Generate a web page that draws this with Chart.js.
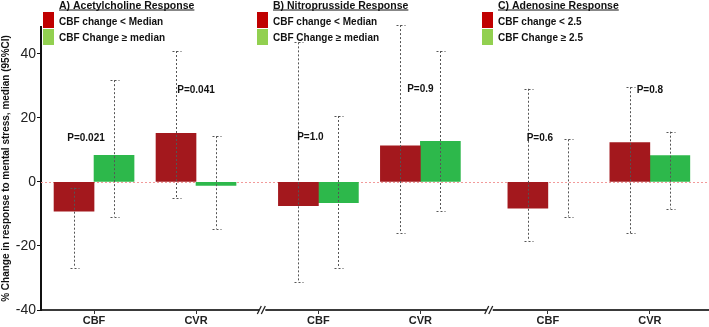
<!DOCTYPE html>
<html>
<head>
<meta charset="utf-8">
<script src="https://cdn.jsdelivr.net/npm/chart.js@4"></script>
<style>
html, body { margin: 0; padding: 0; background: #fff; }
#wrap { width: 709px; height: 327px; position: relative; }
</style>
</head>
<body>
<div id="wrap"><canvas id="myChart"></canvas></div>
<script>
let panels = ["A) Acetylcholine Response", "B) Nitroprusside Response", "C) Adenosine Response"];
let lowLabels = ["CBF change < Median", "CBF change < Median", "CBF change < 2.5"];
let highLabels = ["CBF Change ≥ median", "CBF Change ≥ median", "CBF Change ≥ 2.5"];
let categories = ["CBF", "CVR", "CBF", "CVR", "CBF", "CVR"];
// where each category sits on the (broken) x axis, and where the breaks are
let slots = [1, 2, 3.2, 4.2, 5.45, 6.45];
let breaks = [2.65, 4.88];
let lowMedian = [-9.1, 15.2, -7.4, 11.3, -8.2, 12.3];
let lowCiLo = [-26.8, -5.1, -31.1, -16.0, -18.4, -16.0];
let lowCiHi = [-1.8, 40.9, 43.6, 49.0, 29.1, 29.6];
let highMedian = [8.3, -1.1, -6.5, 12.7, 0, 8.2];
let highCiLo = [-10.8, -14.6, -26.8, -9.0, -10.8, -8.3];
let highCiHi = [31.8, 14.3, 20.6, 40.9, 13.3, 15.7];
let pValues = ["P=0.021", "P=0.041", "P=1.0", "P=0.9", "P=0.6", "P=0.8"];
let pHeights = [13.7, 28.7, 14.1, 29.0, 13.7, 28.7];
let yTicks = [-40, -20, 0, 20, 40];

let font = "'Liberation Sans', Arial, sans-serif";
let legendX = [43, 257, 482];

let zeroLine = {
    id: "zeroLine",
    beforeDatasetsDraw(chart) {
        let ctx = chart.ctx, a = chart.chartArea;
        let y0 = Math.round(chart.scales.y.getPixelForValue(0)) + 0.5;
        ctx.save();
        ctx.strokeStyle = "#f29a9a";
        ctx.lineWidth = 1;
        ctx.setLineDash([2, 2]);
        ctx.beginPath();
        ctx.moveTo(a.left, y0);
        ctx.lineTo(a.right, y0);
        ctx.stroke();
        ctx.restore();
    }
};

let errorBars = {
    id: "errorBars",
    afterDatasetsDraw(chart) {
        let ctx = chart.ctx, ys = chart.scales.y;
        ctx.save();
        ctx.strokeStyle = "#555";
        ctx.lineWidth = 1;
        ctx.setLineDash([2, 2]);
        chart.data.datasets.forEach((ds, d) => {
            chart.getDatasetMeta(d).data.forEach((bar, i) => {
                let lo = ys.getPixelForValue(ds.ciLo[i]);
                let hi = ys.getPixelForValue(ds.ciHi[i]);
                let x = Math.round(bar.x) + 0.5;
                ctx.beginPath();
                ctx.moveTo(x, hi); ctx.lineTo(x, lo);
                ctx.moveTo(x - 4, Math.round(hi) + 0.5); ctx.lineTo(x + 5, Math.round(hi) + 0.5);
                ctx.moveTo(x - 4, Math.round(lo) + 0.5); ctx.lineTo(x + 5, Math.round(lo) + 0.5);
                ctx.stroke();
            });
        });
        ctx.restore();
    }
};

let extras = {
    id: "extras",
    afterDraw(chart) {
        let ctx = chart.ctx, xs = chart.scales.x, ys = chart.scales.y, a = chart.chartArea;
        ctx.save();
        // p values
        ctx.fillStyle = "#111";
        ctx.font = "bold 10px " + font;
        ctx.textAlign = "center";
        ctx.textBaseline = "middle";
        pValues.forEach((p, i) => {
            let shift = categories[i] == "CBF" ? -8 : 0;
            ctx.fillText(p, xs.getPixelForValue(slots[i]) + shift, ys.getPixelForValue(pHeights[i]));
        });
        // axis breaks
        breaks.forEach(b => {
            let x = xs.getPixelForValue(b), y = a.bottom;
            ctx.fillStyle = "#fff";
            ctx.fillRect(x - 3, y - 2, 6, 4);
            ctx.strokeStyle = "#222";
            ctx.lineWidth = 1.3;
            ctx.beginPath();
            ctx.moveTo(x - 5, y + 4); ctx.lineTo(x - 1, y - 4);
            ctx.moveTo(x - 1, y + 4); ctx.lineTo(x + 3, y - 4);
            ctx.stroke();
        });
        // panel legends
        ctx.textAlign = "left";
        ctx.textBaseline = "alphabetic";
        panels.forEach((title, p) => {
            let x = legendX[p];
            ctx.fillStyle = "#c00000";
            ctx.fillRect(x, 12, 11, 16);
            ctx.fillStyle = "#92d050";
            ctx.fillRect(x, 29, 11, 16);
            ctx.fillStyle = "#111";
            ctx.font = "bold 10.5px " + font;
            ctx.fillText(title, x + 16, 8.5);
            let w = ctx.measureText(title).width;
            ctx.fillRect(x + 16, 9.5, w, 1);
            ctx.font = "bold 10px " + font;
            ctx.fillText(lowLabels[p], x + 16, 25);
            ctx.fillText(highLabels[p], x + 16, 41);
        });
        ctx.restore();
    }
};

let ctx = document.getElementById("myChart").getContext("2d");
let chart = new Chart(ctx, {
    type: "bar",
    data: {
        datasets: [{
            label: "CBF change < Median",
            data: slots.map((s, i) => ({ x: s, y: lowMedian[i] })),
            ciLo: lowCiLo,
            ciHi: lowCiHi,
            backgroundColor: "#a3181d",
            borderWidth: 0,
            barThickness: 40
        }, {
            label: "CBF Change ≥ median",
            data: slots.map((s, i) => ({ x: s, y: highMedian[i] })),
            ciLo: highCiLo,
            ciHi: highCiHi,
            // a median of exactly 0 leaves no bar at all
            backgroundColor: (c) => (c.raw && c.raw.y === 0) ? "rgba(0,0,0,0)" : "#2db84b",
            borderWidth: 0,
            barThickness: 40
        }]
    },
    options: {
        responsive: true,
        maintainAspectRatio: false,
        animation: false,
        layout: { padding: { top: 27, right: 0, left: 0, bottom: 0 } },
        plugins: { legend: { display: false }, tooltip: { enabled: false } },
        scales: {
            x: {
                type: "linear",
                min: 0.48,
                max: 7.03,
                offset: false,
                afterBuildTicks: (scale) => { scale.ticks = slots.map(v => ({ value: v })); },
                afterFit: (scale) => { scale.height = 17; },
                ticks: {
                    autoSkip: false,
                    maxRotation: 0,
                    padding: 0,
                    color: "#222",
                    font: { family: font, size: 11, weight: "bold" },
                    callback: (v, i) => categories[i]
                },
                grid: { offset: false, drawOnChartArea: false, drawTicks: true, tickLength: 4, color: "#333" },
                border: { display: true, color: "#3a3a3a", width: 2 }
            },
            y: {
                min: -40,
                max: 48.4,
                afterBuildTicks: (scale) => { scale.ticks = yTicks.map(v => ({ value: v })); },
                afterFit: (scale) => { scale.width = 41; },
                ticks: {
                    padding: 1,
                    color: "#222",
                    font: { family: font, size: 14 }
                },
                grid: { drawOnChartArea: false, drawTicks: true, tickLength: 4, color: "#111" },
                border: { display: true, color: "#111", width: 2 },
                title: {
                    display: true,
                    text: "% Change in response to mental stress, median (95%CI)",
                    color: "#111",
                    padding: 0,
                    font: { family: font, size: 10, weight: "bold" }
                }
            }
        }
    },
    plugins: [zeroLine, errorBars, extras]
});
</script>
</body>
</html>
